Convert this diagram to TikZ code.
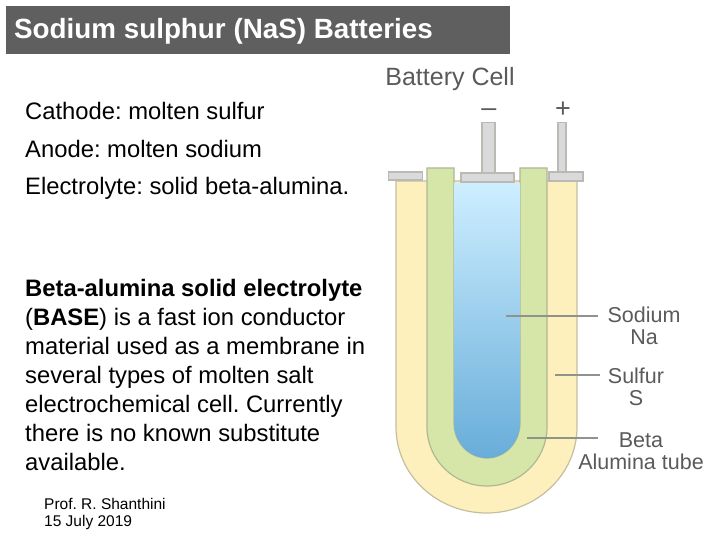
\documentclass[tikz,border=0pt]{standalone}
\usepackage{fontspec}
\setmainfont{Liberation Sans}
\usetikzlibrary{positioning}
\frenchspacing
\definecolor{titlegray}{HTML}{5F5F5F}
\definecolor{sulfurfill}{HTML}{FDF0BC}
\definecolor{sulfurline}{HTML}{C4BFA0}
\definecolor{tubefill}{HTML}{D6E5A8}
\definecolor{tubeline}{HTML}{B0B796}
\definecolor{capfill}{HTML}{DADADA}
\definecolor{capline}{HTML}{BABAB4}
\definecolor{leadergray}{HTML}{8F938C}
\definecolor{labelgray}{HTML}{5A5A5A}
\definecolor{sodiumtop}{HTML}{CDEEFF}
\definecolor{sodiummid}{HTML}{BEE2F5}
\definecolor{sodiumlow}{HTML}{68ADD9}

\begin{document}
\begin{tikzpicture}[
  x=1pt, y=-1pt,
  bodytext/.style={inner sep=0pt, anchor=west, text=black, font=\fontsize{23.8}{29}\selectfont},
  parabox/.style={inner sep=0pt, anchor=north west, align=left, font=\fontsize{23.8}{29}\selectfont},
  cellpart/.style={draw=capline, fill=capfill, line width=1.2pt, inner sep=0pt},
  celllabel/.style={inner sep=0pt, align=center, text=labelgray, font=\fontsize{21.5}{22}\selectfont},
  signlabel/.style={inner sep=0pt, text=labelgray, font=\fontsize{27}{30}\selectfont},
  leader/.style={draw=leadergray, line width=1.4pt}
]
\useasboundingbox (0,0) rectangle (720,540);

% Title bar
\node[fill=titlegray, minimum width=504pt, minimum height=48pt, inner sep=0pt, anchor=north west] (titlebar) at (6,6) {};
\node[inner sep=0pt, anchor=west, text=white, font=\fontsize{27.8}{32}\selectfont\bfseries] (title) at (14,31) {Sodium sulphur (NaS) Batteries};

% Left column text
\node[bodytext] (cathode) at (25,111) {Cathode: molten sulfur};
\node[bodytext, below=38pt of cathode.west, anchor=west] (anode) {Anode: molten sodium};
\node[bodytext, below=39pt of anode.west, anchor=west] (electrolyte) {Electrolyte: solid beta-alumina.};
\node[parabox] (base) at (25,279) {\textbf{Beta-alumina solid electrolyte}\\(\textbf{BASE}) is a fast ion conductor\\material used as a membrane in\\several types of molten salt\\electrochemical cell. Currently\\there is no known substitute\\available.};
\node[inner sep=0pt, anchor=north west, align=left, font=\fontsize{15.5}{17}\selectfont] (footer) at (44,498) {Prof. R. Shanthini\\15 July 2019};

% Cell body, outside to inside
\draw[draw=sulfurline, fill=sulfurfill, line width=1.2pt] (396,181) -- (396,427) arc[start angle=180, end angle=360, x radius=90.5pt, y radius=86pt] -- (577,181) -- cycle;
\draw[draw=tubeline, fill=tubefill, line width=1.2pt] (427,168) -- (427,427) arc[start angle=180, end angle=360, x radius=60pt, y radius=59pt] -- (547,168) -- (520,168) -- (520,423) arc[start angle=360, end angle=180, x radius=33pt, y radius=35pt] -- (454,168) -- cycle;
\shade[top color=sodiumtop, middle color=sodiummid, bottom color=sodiumlow] (454,183) -- (454,423) arc[start angle=180, end angle=360, x radius=33pt, y radius=35pt] -- (520,183) -- cycle;

% Terminals and caps
\node[cellpart, minimum width=13pt, minimum height=51pt] (negpost) at (488.5,148) {};
\node[cellpart, minimum width=8pt, minimum height=50pt] (pospost) at (562,147.5) {};
\node[cellpart, minimum width=34pt, minimum height=8pt] (leftcap) at (405.5,176) {};
\node[cellpart, minimum width=53pt, minimum height=9pt] (negcap) at (487.5,177.5) {};
\node[cellpart, minimum width=34pt, minimum height=9pt] (poscap) at (566,176.5) {};
\node[signlabel] (minus) at (489,113) {–};
\node[signlabel] (plus) at (563,110) {+};

% Labels
\node[celllabel, font=\fontsize{25}{28}\selectfont] (cell) at (450,79) {Battery Cell};
\node[celllabel] (sodium) at (644,326) {Sodium\\Na};
\node[celllabel] (sulfur) at (636,387) {Sulfur\\S};
\node[celllabel] (beta) at (641,440) {Beta};
\node[celllabel, below=22pt of beta.center, anchor=center] (tube) {Alumina tube};

% Leaders
\coordinate (sodiumend) at (506,316);
\coordinate (sulfurend) at (555,375);
\coordinate (betaend) at (527,438);
\draw[leader, shorten >=9pt] (sodiumend) -- (sodiumend -| sodium.west);
\draw[leader, shorten >=8pt] (sulfurend) -- (sulfurend -| sulfur.west);
\draw[leader, shorten >=21pt] (betaend) -- (betaend -| beta.west);

\end{tikzpicture}
\end{document}
